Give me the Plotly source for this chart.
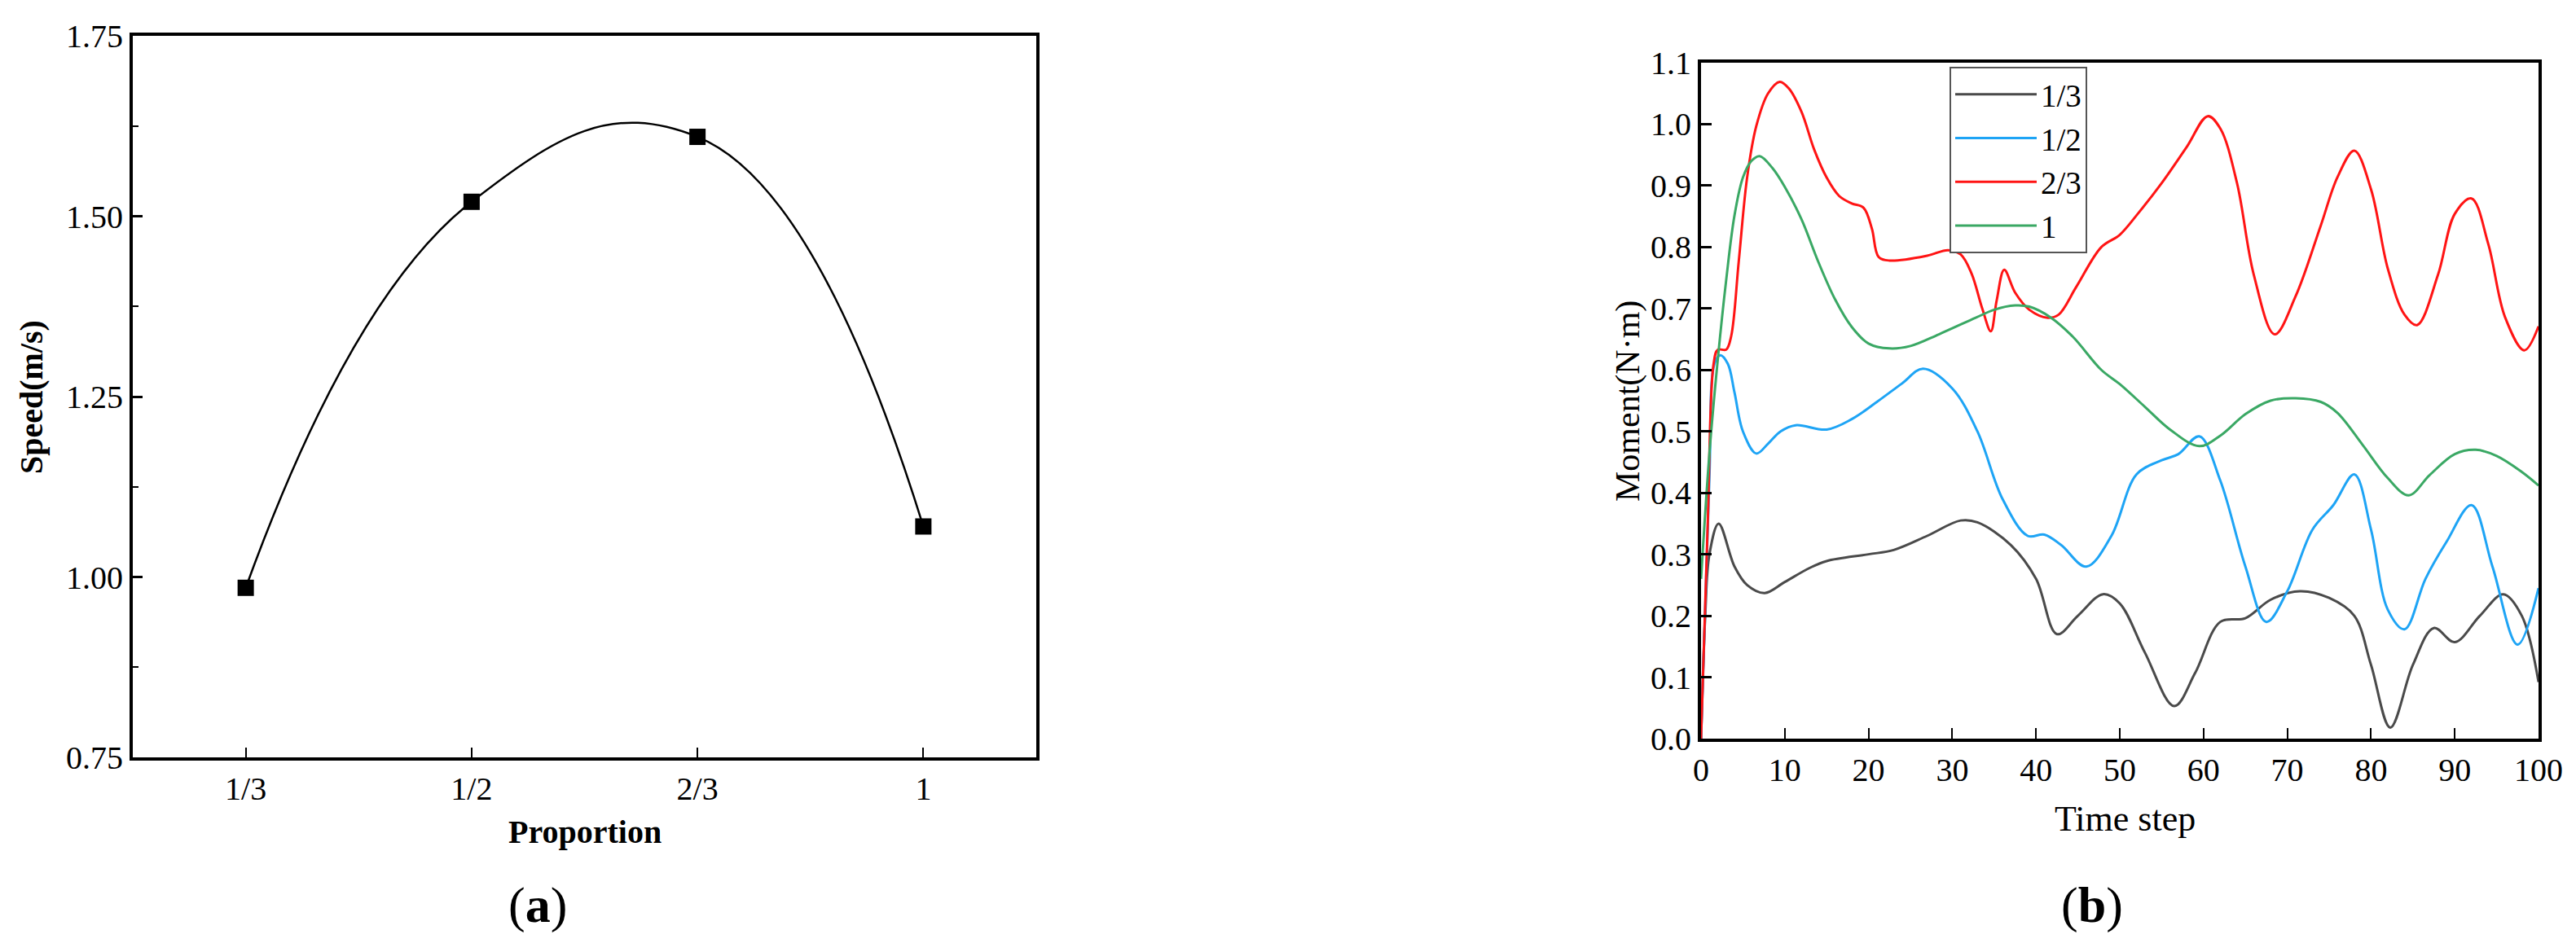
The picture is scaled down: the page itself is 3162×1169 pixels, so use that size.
import plotly.graph_objects as go

# panel (a) data
proportion = ['1/3', '1/2', '2/3', '1']
speed = [0.985, 1.52, 1.61, 1.07]

# panel (b) data
t_13 = [0, 0.5, 1, 2.1, 4, 5.5, 7.6, 10, 13, 15, 20, 23, 27, 31, 33, 37, 40, 42.5, 45, 48, 50, 53, 56.5, 59, 62, 65, 68, 71.5, 75, 78, 80, 82.3, 85, 87.5, 90, 93, 95.8, 98, 100]
m_13 = [0.0, 0.2, 0.30, 0.35, 0.28, 0.25, 0.237, 0.255, 0.278, 0.289, 0.30, 0.307, 0.33, 0.355, 0.352, 0.315, 0.26, 0.17, 0.20, 0.235, 0.22, 0.14, 0.053, 0.107, 0.19, 0.196, 0.226, 0.24, 0.229, 0.20, 0.12, 0.018, 0.12, 0.18, 0.157, 0.20, 0.235, 0.20, 0.092]

t_12 = [0, 1, 1.6, 2.3, 3.2, 4, 5, 6.6, 8, 9.5, 11.3, 15, 18, 21, 24, 26.5, 30, 33, 36, 39, 41, 43, 46, 49, 52, 55, 57, 59.5, 62, 65, 67.5, 70, 73, 75.5, 78, 80, 82, 84, 86.5, 89, 92, 94.5, 97.5, 100]
m_12 = [0.0, 0.426, 0.61, 0.624, 0.61, 0.563, 0.50, 0.464, 0.48, 0.50, 0.51, 0.503, 0.52, 0.548, 0.578, 0.602, 0.57, 0.50, 0.39, 0.33, 0.332, 0.315, 0.28, 0.33, 0.43, 0.453, 0.463, 0.492, 0.42, 0.28, 0.19, 0.24, 0.34, 0.38, 0.43, 0.34, 0.21, 0.178, 0.26, 0.32, 0.38, 0.28, 0.153, 0.245]

t_23 = [0, 0.8, 1.5, 2, 3, 3.6, 4.5, 5.5, 6.6, 8, 9.4, 10.5, 12, 13.5, 15, 16.5, 18, 19.4, 20.4, 21.2, 22.5, 27, 29.5, 31, 32.3, 33.6, 34.6, 35.3, 36.2, 37.5, 39.2, 41.4, 42.7, 44.8, 47.8, 50, 52.2, 55, 58, 60.5, 62, 64, 66, 68.5, 71, 74, 76, 78, 80, 82, 84, 85.5, 88, 90, 92, 94, 96, 98.3, 100]
m_23 = [0.0, 0.35, 0.61, 0.633, 0.633, 0.655, 0.776, 0.913, 0.997, 1.05, 1.069, 1.058, 1.02, 0.959, 0.913, 0.883, 0.871, 0.864, 0.83, 0.784, 0.778, 0.786, 0.795, 0.788, 0.757, 0.699, 0.663, 0.713, 0.763, 0.726, 0.698, 0.685, 0.69, 0.735, 0.80, 0.82, 0.855, 0.904, 0.963, 1.013, 0.993, 0.904, 0.755, 0.658, 0.72, 0.835, 0.914, 0.957, 0.894, 0.765, 0.69, 0.673, 0.755, 0.854, 0.879, 0.805, 0.686, 0.632, 0.671]

t_1 = [0, 1, 2, 3, 4, 5, 6, 7, 8.5, 10, 12, 14, 16, 18, 20, 22.5, 25, 28.4, 32.8, 35, 37.5, 39.2, 41.8, 44.4, 47.8, 50, 53, 56, 59.5, 62, 65, 68, 71, 74, 76, 79, 82, 84.5, 87, 90, 92.5, 95, 98, 100]
m_1 = [0.26, 0.464, 0.617, 0.746, 0.852, 0.913, 0.94, 0.948, 0.929, 0.898, 0.845, 0.776, 0.715, 0.67, 0.643, 0.635, 0.639, 0.658, 0.685, 0.698, 0.705, 0.703, 0.685, 0.654, 0.60, 0.577, 0.54, 0.503, 0.476, 0.493, 0.528, 0.55, 0.554, 0.548, 0.53, 0.478, 0.424, 0.396, 0.429, 0.463, 0.47, 0.46, 0.434, 0.412]

W, H = 3162, 1169
serif = 'Liberation Serif'

fig = go.Figure()

fig.add_trace(go.Scatter(x=proportion, y=speed, mode='lines+markers',
                         line=dict(color='black', width=2.5, shape='spline', smoothing=1.3),
                         marker=dict(symbol='square', size=20, color='black'),
                         showlegend=False, xaxis='x', yaxis='y'))

series = [('1/3', t_13, m_13, '#4a4a4a'),
          ('1/2', t_12, m_12, '#1ea4f5'),
          ('2/3', t_23, m_23, '#ff1414'),
          ('1', t_1, m_1, '#3aa864')]
for name, tx, my, col in series:
    fig.add_trace(go.Scatter(x=tx, y=my, name=name, mode='lines', line_shape='spline',
                             line=dict(color=col, width=3), xaxis='x2', yaxis='y2'))

def px_x(v):
    return v / W

def px_y(v):
    return 1 - v / H

axis_common = dict(showline=True, linecolor='black', linewidth=4, mirror=True, automargin=False,
                   showgrid=False, zeroline=False, ticks='inside', tickcolor='black',
                   tickfont=dict(family=serif, size=40, color='black'))

def label(text, x, y, size, angle=0):
    return dict(text=text, x=px_x(x), y=px_y(y), xref='paper', yref='paper',
                xanchor='center', yanchor='middle', textangle=angle, showarrow=False,
                font=dict(family=serif, size=size, color='black'))

fig.update_layout(
    width=W, height=H,
    margin=dict(l=0, r=0, t=0, b=0, autoexpand=False),
    paper_bgcolor='white', plot_bgcolor='white',
    font=dict(family=serif, color='black'),
    xaxis=dict(domain=[px_x(155), px_x(1264)], range=[-0.5, 3.5], type='category',
               ticklen=12, tickwidth=2, anchor='y', **axis_common),
    yaxis=dict(domain=[px_y(922), px_y(36)], range=[0.75, 1.75], dtick=0.25, tickformat='.2f',
               ticklen=12, tickwidth=3, anchor='x',
               minor=dict(ticks='inside', ticklen=7, tickwidth=2, dtick=0.125, tickcolor='black'),
               **axis_common),
    xaxis2=dict(domain=[px_x(2080), px_x(3108)], range=[0, 100], dtick=10,
                ticklen=13, tickwidth=2, anchor='y2', **axis_common),
    yaxis2=dict(domain=[px_y(899), px_y(69)], range=[0, 1.1], dtick=0.1, tickformat='.1f',
                ticklen=13, tickwidth=3, anchor='x2', **axis_common),
    legend=dict(x=px_x(2385), y=px_y(74), xanchor='left', yanchor='top',
                bordercolor='#555555', borderwidth=2, bgcolor='white',
                font=dict(family=serif, size=39, color='black'),
                itemwidth=100, tracegroupgap=0),
    annotations=[
        label('<b>Speed(m/s)</b>', 30, 480, 40, -90),
        label('<b>Proportion</b>', 710, 1013, 40),
        label('(<b>a</b>)', 652, 1103, 62),
        label('Moment(N·m)', 1990, 485, 42, -90),
        label('Time step', 2600, 997, 44),
        label('(<b>b</b>)', 2560, 1103, 62),
    ],
)

fig.write_html("out.html")
